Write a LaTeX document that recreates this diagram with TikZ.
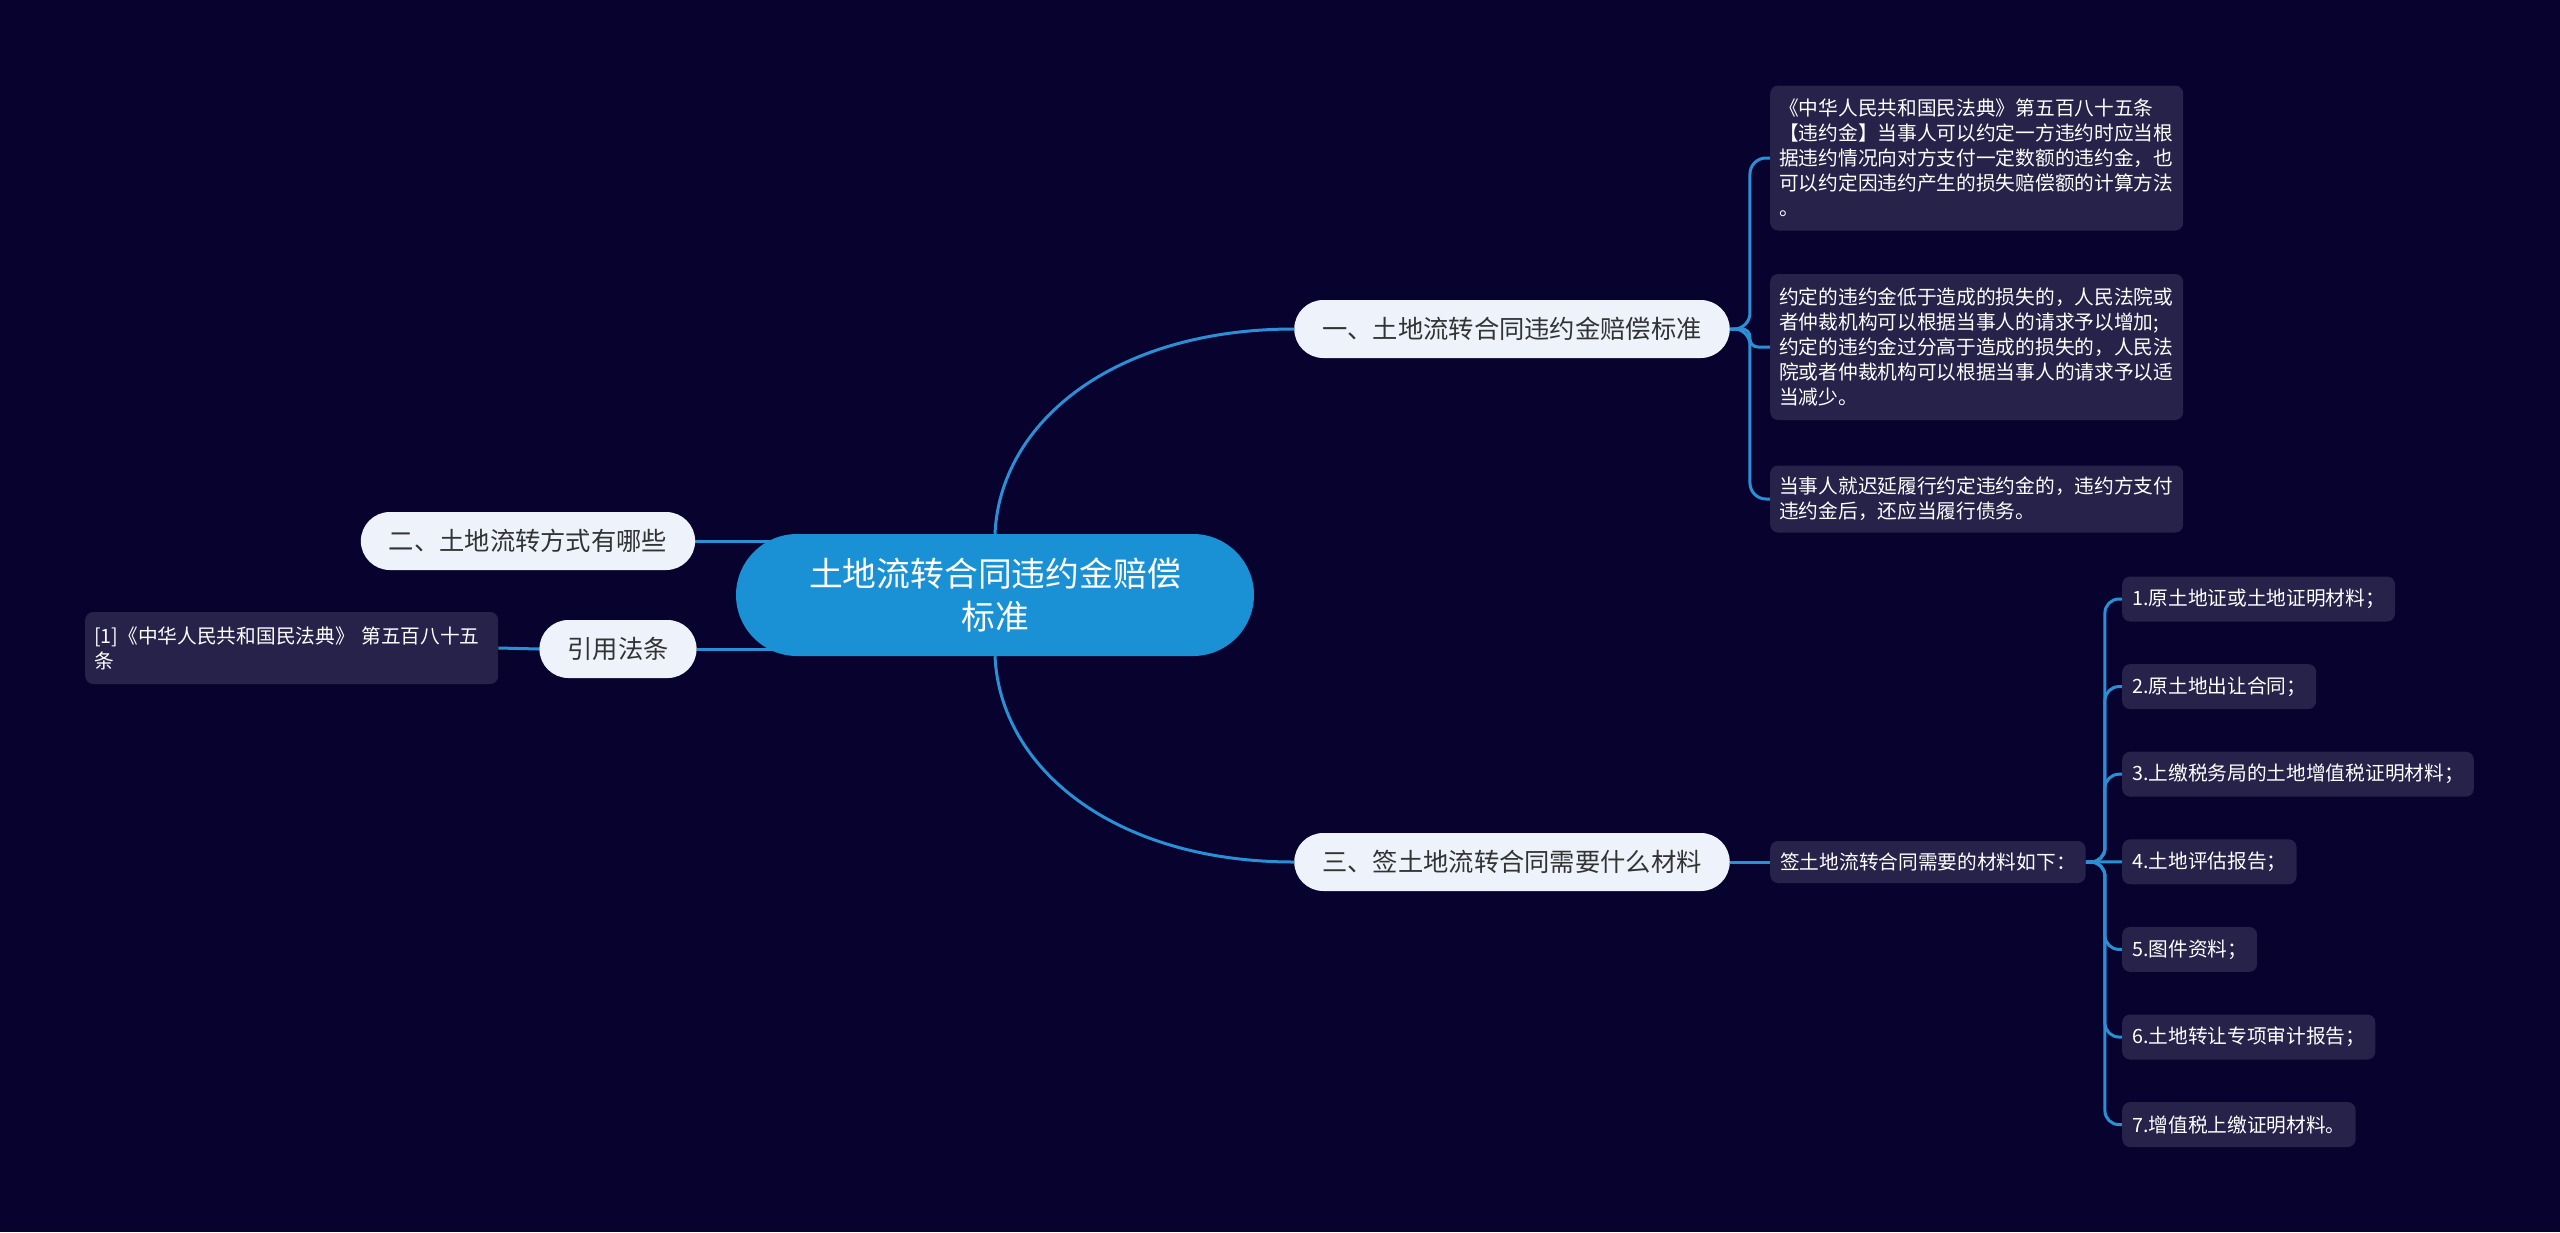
\documentclass[tikz,border=0pt]{standalone}
\usepackage{fontspec}
\usepackage{xcolor}
\usepackage{tikz}
\usetikzlibrary{positioning}
\newfontfamily\cjk{Noto Sans CJK SC}
\definecolor{bgc}{HTML}{08032E}
\definecolor{boxc}{HTML}{262249}
\definecolor{lightc}{HTML}{EEF3FB}
\definecolor{rootc}{HTML}{1A90D5}
\definecolor{linec}{HTML}{2B8FD6}
\definecolor{darkt}{HTML}{333333}
\pgfdeclarelayer{back}
\pgfdeclarelayer{edges}
\pgfsetlayers{back,edges,main}

\begin{document}
\begin{tikzpicture}[
  x=1pt,y=-1pt,
  hub/.style={fill=rootc,text=white,rounded corners=61pt,align=center,minimum width=518pt,minimum height=122pt,font={\cjk\fontsize{33.8}{43}\selectfont}},
  tp/.style={fill=lightc,text=darkt,rounded corners=29pt,inner xsep=28pt,minimum height=58pt,font={\cjk\fontsize{25.3}{30}\selectfont}},
  bx/.style={fill=boxc,text=white,rounded corners=8pt,inner xsep=9pt,inner ysep=0pt,align=left,font={\cjk\fontsize{19.7}{25}\selectfont}},
  it/.style={bx,inner xsep=10pt,minimum height=45pt},
  a/.style={draw=linec,line width=3pt}
]
\begin{pgfonlayer}{back}
\fill[bgc] (0,0) rectangle (2560,1232);
\end{pgfonlayer}

\node[hub] (root) at (995,595) {土地流转合同违约金赔偿\\标准};
\node[tp] (n1) at (1512,329) {一、土地流转合同违约金赔偿标准};
\node[tp] (n3) at (1512,862) {三、签土地流转合同需要什么材料};
\node[tp] (n2) at (528,541) {二、土地流转方式有哪些};
\node[tp] (law) at (618,649) {引用法条};
\node[bx,anchor=west,text width=395pt,minimum height=72pt] (ref) at (85,648) {[1]《中华人民共和国民法典》 第五百八十五\\条};

\node[bx,anchor=west,text width=395pt,minimum height=145pt] (b1) at (1770,158) {《中华人民共和国民法典》第五百八十五条\\【违约金】当事人可以约定一方违约时应当根\\据违约情况向对方支付一定数额的违约金，也\\可以约定因违约产生的损失赔偿额的计算方法\\。};
\node[bx,anchor=west,text width=395pt,minimum height=146pt] (b2) at (1770,347) {约定的违约金低于造成的损失的，人民法院或\\者仲裁机构可以根据当事人的请求予以增加;\\约定的违约金过分高于造成的损失的，人民法\\院或者仲裁机构可以根据当事人的请求予以适\\当减少。};
\node[bx,anchor=west,text width=395pt,minimum height=67pt] (b3) at (1770,499) {当事人就迟延履行约定违约金的，违约方支付\\违约金后，还应当履行债务。};
\node[bx,anchor=west,inner xsep=10pt,minimum height=42pt] (mat) at (1770,862) {签土地流转合同需要的材料如下：};

\begin{pgfonlayer}{edges}
\draw[a] (root.north) .. controls +(5,-112) and +(-180,0) .. (n1.west);
\draw[a] (root.south) .. controls +(5,112) and +(-180,0) .. (n3.west);
\draw[a] (n2.east) -- (n2.east -| root.center);
\draw[a] (law.east) -- (law.east -| root.center);
\draw[a] (law.west) -- (ref.east);
\draw[a,rounded corners=16pt] (n1.east) -- ++(20,0) |- (b1.west);
\draw[a,rounded corners=8pt] (n1.east) -- ++(20,0) |- (b2.west);
\draw[a,rounded corners=16pt] (n1.east) -- ++(20,0) |- (b3.west);
\draw[a] (n3.east) -- (mat.west);
\end{pgfonlayer}

\foreach \txt [count=\i] in {1.原土地证或土地证明材料；,2.原土地出让合同；,3.上缴税务局的土地增值税证明材料；,4.土地评估报告；,5.图件资料；,6.土地转让专项审计报告；,7.增值税上缴证明材料。}{
  \node[it,anchor=west] (m\i) at (2122,{599+87.6*(\i-1)}) {\txt};
  \begin{pgfonlayer}{edges}
  \ifnum\i=4
    \draw[a] (mat.east) -- (m\i.west);
  \else
    \draw[a,rounded corners=14pt] (mat.east) -- ++(19,0) |- (m\i.west);
  \fi
  \end{pgfonlayer}
}
\end{tikzpicture}
\end{document}
